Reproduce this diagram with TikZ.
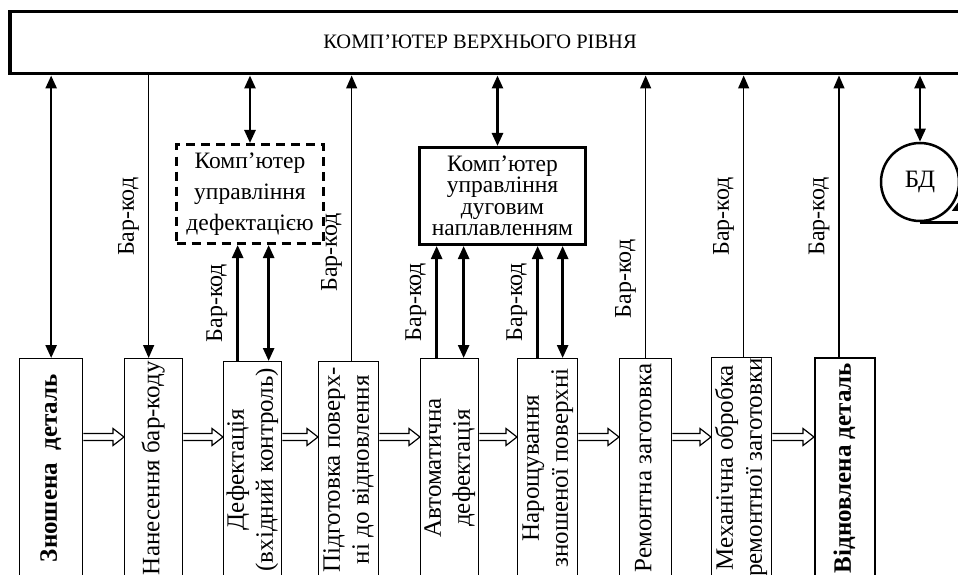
\documentclass[tikz,border=0pt]{standalone}
\usepackage{fontspec}
\setmainfont{Liberation Serif}
\usetikzlibrary{arrows.meta,calc}

\newcommand{\vtext}[1]{\rotatebox{90}{\begin{tabular}{@{}c@{}}#1\end{tabular}}}
\newcommand{\flowarrow}[2]{%
\draw[hollow] let \p1 = (#1.east |- flowy), \p2 = (#2.west |- flowy) in
  (\x1, \y1 + 3.5pt) -- (\x2 - 11pt, \y1 + 3.5pt) -- (\x2 - 11pt, \y1 + 8.5pt) -- (\x2, \y1)
  -- (\x2 - 11pt, \y1 - 8.5pt) -- (\x2 - 11pt, \y1 - 3.5pt) -- (\x1, \y1 - 3.5pt);}

\begin{document}
\begin{tikzpicture}[x=1pt, y=-1pt, >={Triangle[length=13pt, width=11pt]},
  stage/.style={draw, line width=1.3pt, inner sep=0pt, anchor=north west, font=\fontsize{25}{29}\selectfont},
  barcode/.style={rotate=90, anchor=south, inner sep=9pt, font=\fontsize{24}{26}\selectfont},
  bothway/.style={<->, line width=2.6pt},
  codeline/.style={->, line width=1.3pt},
  codethick/.style={->, line width=2.6pt},
  hollow/.style={line width=1.2pt}]
\useasboundingbox (0, 0) rectangle (958, 575);
\clip (0, 0) rectangle (958, 575);

% upper level
\node[draw, line width=3.5pt, minimum width=972pt, minimum height=62pt, anchor=north west] (top) at (8, 10) {};
\node[font=\fontsize{20.5}{24}\selectfont] (title) at (480, 42) {КОМП’ЮТЕР ВЕРХНЬОГО РІВНЯ};

% control computers and database
\node[draw, line width=3pt, dash pattern=on 9pt off 6pt, minimum width=147pt, minimum height=99pt, anchor=north west, align=center, font=\fontsize{23.5}{31}\selectfont] (defect) at (175, 143) {Комп’ютер\\управління\\дефектацією};
\node[draw, line width=3pt, minimum width=166pt, minimum height=97pt, inner sep=2pt, anchor=north west, align=center, font=\fontsize{23.5}{21.5}\selectfont] (weld) at (418, 146) {Комп’ютер\\управління\\дуговим\\наплавленням};
\node[draw, circle, line width=2.5pt, minimum size=78pt, inner sep=0pt, font=\fontsize{25}{27}\selectfont] (db) at (920, 182) {БД};
\draw[line width=2.5pt] (db.south) -- ++(60, 0);
\fill (db.-40) ++(1, 3) -- ++(8, 0) -- ++(0, -11) -- cycle;

% stages
\node[stage, minimum width=63pt, minimum height=219pt] (z1) at (19, 358) {\vtext{\bfseries Зношена\ \ деталь}};
\node[stage, minimum width=58pt, minimum height=219pt] (z2) at (124, 358) {\vtext{Нанесення бар-коду}};
\node[stage, minimum width=56pt, minimum height=216pt] (z3) at (223, 361) {\vtext{Дефектація\\(вхідний контроль)}};
\node[stage, minimum width=60pt, minimum height=216pt] (z4) at (318, 361) {\vtext{Підготовка поверх-\\ні до відновлення}};
\node[stage, minimum width=56pt, minimum height=219pt] (z5) at (420, 358) {\vtext{Автоматична\\дефектація}};
\node[stage, minimum width=60pt, minimum height=219pt] (z6) at (517, 358) {\vtext{Нарощування\\зношеної поверхні}};
\node[stage, minimum width=52pt, minimum height=219pt] (z7) at (619, 358) {\vtext{Ремонтна заготовка}};
\node[stage, minimum width=60pt, minimum height=220pt] (z8) at (711, 357) {\vtext{Механічна обробка\\ремонтної заготовки}};
\node[stage, line width=2pt, minimum width=60pt, minimum height=220pt] (z9) at (814, 357) {\vtext{\bfseries Відновлена\ деталь}};

% flow of the part
\coordinate (flowy) at (0, 437);
\foreach \a/\b in {z1/z2, z2/z3, z3/z4, z4/z5, z5/z6, z6/z7, z7/z8, z8/z9}
  \flowarrow{\a}{\b};

% data links
\coordinate (b2) at ([xshift=-5pt]z2.north);
\coordinate (b3) at ([xshift=-15pt]z3.north);
\coordinate (d3) at ([xshift=16pt]z3.north);
\coordinate (b4) at ([xshift=3pt]z4.north);
\coordinate (w) at ([xshift=-5pt]weld.north);
\coordinate (b5) at ([xshift=-13pt]z5.north);
\coordinate (d5) at ([xshift=14pt]z5.north);
\coordinate (b6) at ([xshift=-10pt]z6.north);
\coordinate (d6) at ([xshift=15pt]z6.north);
\coordinate (b8) at ([xshift=2pt]z8.north);
\coordinate (b9) at ([xshift=-6pt]z9.north);

\draw[bothway] (z1.north) -- (z1.north |- top.south);
\draw[codeline] (b2 |- top.south) -- (b2) node[barcode, midway] {Бар-код};
\draw[bothway] (defect.north) -- (defect.north |- top.south);
\draw[codethick] (b3) -- (b3 |- defect.south) node[barcode, midway] {Бар-код};
\draw[bothway] (d3) -- (d3 |- defect.south);
\draw[codeline] (b4) -- (b4 |- top.south) node[barcode, pos=0.38] {Бар-код};
\draw[bothway] (w |- weld.north) -- (w |- top.south);
\draw[codethick] (b5) -- (b5 |- weld.south) node[barcode, midway] {Бар-код};
\draw[bothway] (d5) -- (d5 |- weld.south);
\draw[codethick] (b6) -- (b6 |- weld.south) node[barcode, midway] {Бар-код};
\draw[bothway] (d6) -- (d6 |- weld.south);
\draw[codeline] (z7.north) -- (z7.north |- top.south) node[barcode, pos=0.28] {Бар-код};
\draw[codeline] (b8) -- (b8 |- top.south) node[barcode, midway] {Бар-код};
\draw[codeline] (b9) -- (b9 |- top.south) node[barcode, midway] {Бар-код};
\draw[bothway] (db.north) -- (db.north |- top.south);
\end{tikzpicture}
\end{document}
